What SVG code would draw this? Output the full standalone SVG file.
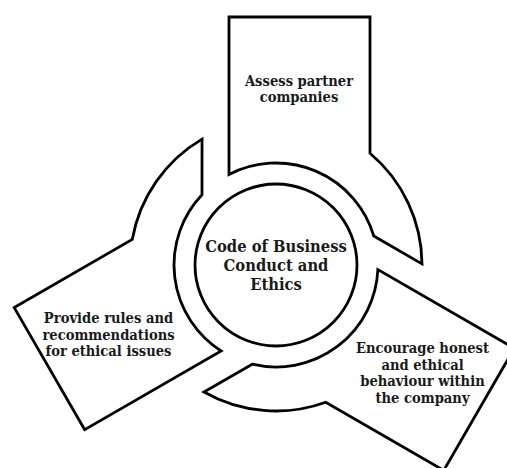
<svg xmlns="http://www.w3.org/2000/svg" xmlns:xlink="http://www.w3.org/1999/xlink" width="507" height="468" viewBox="0 0 507 468">
  <style>
    .shape { fill: #ffffff; stroke: #000000; stroke-width: 2.8; stroke-linejoin: miter; }
    .label { font-family: "DejaVu Serif", "Liberation Serif", serif; font-weight: bold; font-stretch: condensed; fill: #1a1a1a; text-anchor: middle; }
    .small { font-size: 14.6px; }
    .big { font-size: 16.4px; }
  </style>
  <defs>
    <!-- one arc segment of the ring ending in a box; placed three times around (276,265) -->
    <path id="segment" d="M 229,17 H 370 V 153.3 A 146 146 0 0 1 422,263.9 L 373.8,236 A 102 102 0 0 0 229,174.5 Z"/>
  </defs>

  <g id="node-assess">
    <use xlink:href="#segment" class="shape"/>
    <text class="label small" x="299" y="86">Assess partner</text>
    <text class="label small" x="299" y="102">companies</text>
  </g>

  <g id="node-encourage">
    <use xlink:href="#segment" class="shape" transform="rotate(120 276 265)"/>
    <text class="label small" x="422.5" y="353">Encourage honest</text>
    <text class="label small" x="422.5" y="369.5">and ethical</text>
    <text class="label small" x="422.5" y="386">behaviour within</text>
    <text class="label small" x="422.5" y="402.5">the company</text>
  </g>

  <g id="node-provide">
    <use xlink:href="#segment" class="shape" transform="rotate(240 276 265)"/>
    <text class="label small" x="108.5" y="323">Provide rules and</text>
    <text class="label small" x="108.5" y="339.5">recommendations</text>
    <text class="label small" x="108.5" y="356">for ethical issues</text>
  </g>

  <g id="node-code">
    <circle class="shape" cx="276" cy="265" r="81"/>
    <text class="label big" x="276" y="252">Code of Business</text>
    <text class="label big" x="276" y="271">Conduct and</text>
    <text class="label big" x="276" y="290">Ethics</text>
  </g>

  <g id="connectors"/>
</svg>
